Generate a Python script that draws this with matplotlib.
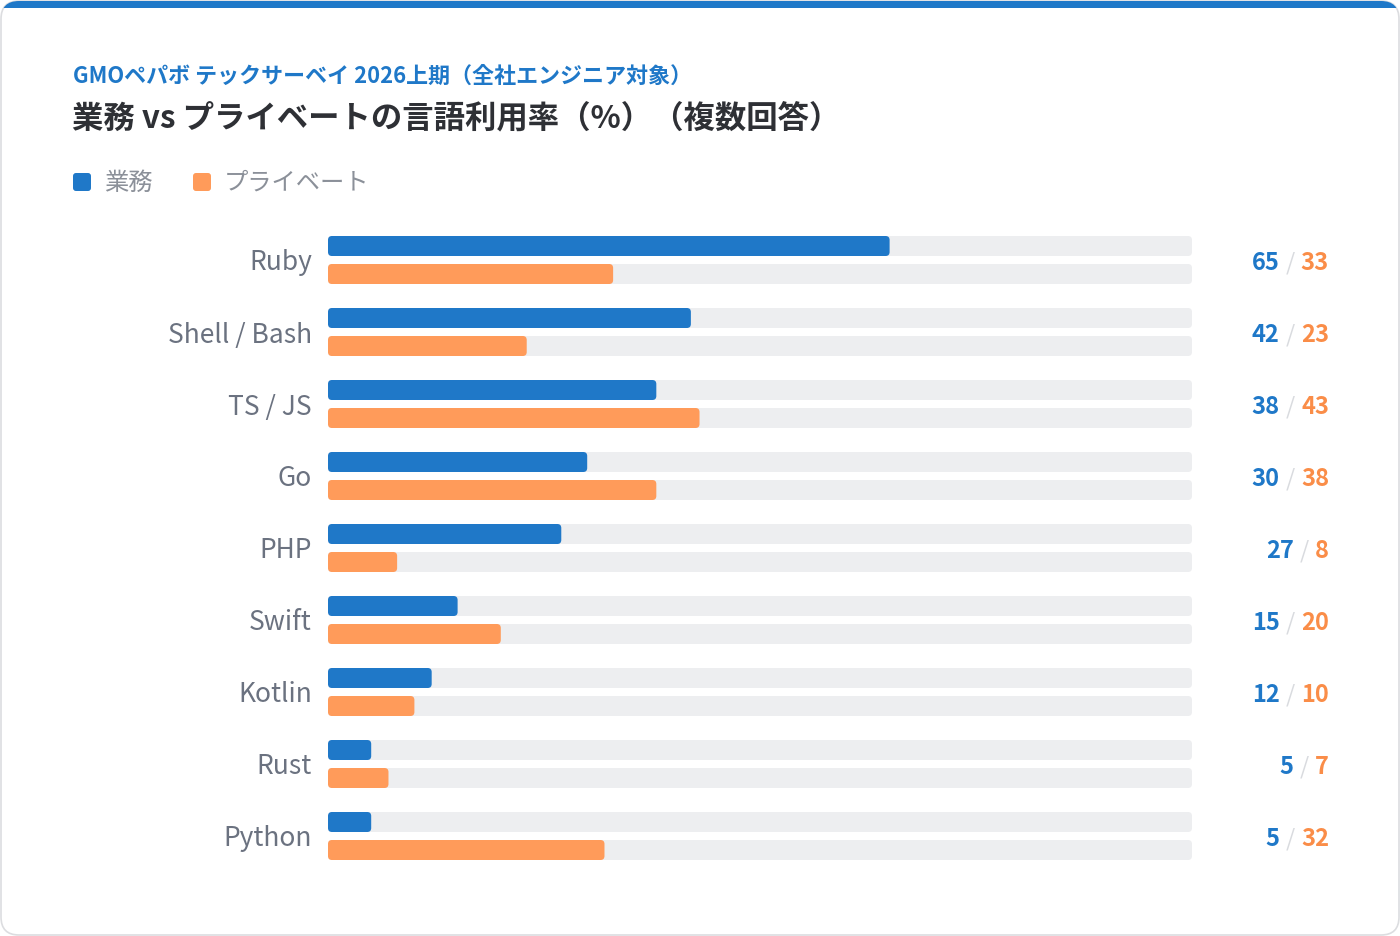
import matplotlib
matplotlib.use("Agg")
import matplotlib.pyplot as plt
from matplotlib.patches import FancyBboxPatch, Rectangle

plt.rcParams['font.family'] = ['Noto Sans CJK JP', 'DejaVu Sans']

languages = ["Ruby", "Shell / Bash", "TS / JS", "Go", "PHP", "Swift", "Kotlin", "Rust", "Python"]
work = [65, 42, 38, 30, 27, 15, 12, 5, 5]
private = [33, 23, 43, 38, 8, 20, 10, 7, 32]
series_names = ["業務", "プライベート"]
subtitle = "GMOペパボ テックサーベイ 2026上期（全社エンジニア対象）"
title = "業務 vs プライベートの言語利用率（%）（複数回答）"

BLUE = "#1f78c8"
ORANGE = "#ff9b5a"
ORANGE_TXT = "#fa8d48"
TRACK = "#edeef0"
LABEL = "#6b7280"

W, H = 1400, 936
fig = plt.figure(figsize=(W / 100, H / 100), dpi=100)

# background / card, pixel coordinates
bg = fig.add_axes([0, 0, 1, 1])
bg.set_xlim(0, W)
bg.set_ylim(H, 0)
bg.axis("off")
card = FancyBboxPatch((1, 1), W - 2, H - 2, boxstyle="round,pad=0,rounding_size=18",
                      fc="white", ec="#dcdde0", lw=1.2, zorder=1)
bg.add_patch(card)
band = Rectangle((0, 0), W, 8, fc=BLUE, ec="none", zorder=2)
bg.add_patch(band)
band.set_clip_path(card)

bg.text(73, 76, subtitle, color=BLUE, fontsize=15.8, fontweight="bold", va="center", ha="left")
bg.text(72, 118, title, color="#2e3035", fontsize=22.6, fontweight="bold", va="center", ha="left")

# legend
lx = [73, 193]
for x, name, c in zip(lx, series_names, [BLUE, ORANGE]):
    bg.add_patch(FancyBboxPatch((x, 173), 18, 18, boxstyle="round,pad=0,rounding_size=3",
                                fc=c, ec="none", zorder=3))
    bg.text(x + 31, 183, name, color="#8b9099", fontsize=17.5, va="center", ha="left")

# bars
ax_l, ax_r, ax_t, ax_b = 328, 1192, 224, 872
ax = fig.add_axes([ax_l / W, 1 - ax_b / H, (ax_r - ax_l) / W, (ax_b - ax_t) / H])
ax.set_xlim(0, 100)
ax.set_ylim(len(languages) - 0.5, -0.5)
ax.axis("off")

px_x = (ax_r - ax_l) / 100.0
px_y = (ax_b - ax_t) / 1.0 / len(languages)
bar_h = 20 / px_y
off = 14 / px_y
r = 4 / px_x
asp = px_x / px_y

def rbar(x0, y0, w, h, color, z):
    p = FancyBboxPatch((x0, y0), w, h, boxstyle="round,pad=0,rounding_size=%f" % r,
                       mutation_aspect=asp, fc=color, ec="none", zorder=z)
    ax.add_patch(p)

for i, (lang, a, b) in enumerate(zip(languages, work, private)):
    for yc, v, c in [(i - off, a, BLUE), (i + off, b, ORANGE)]:
        rbar(0, yc - bar_h / 2, 100, bar_h, TRACK, 1)
        rbar(0, yc - bar_h / 2, v, bar_h, c, 2)
    yp = ax_t + (i + 0.5) * px_y
    bg.text(312, yp, lang, color=LABEL, fontsize=19, va="center_baseline", ha="right")

fig.canvas.draw()
renderer = fig.canvas.get_renderer()
for i, (a, b) in enumerate(zip(work, private)):
    yp = ax_t + (i + 0.5) * px_y
    t1 = bg.text(1329, yp, str(b), color=ORANGE_TXT, fontsize=17, fontweight="bold",
                 va="center_baseline", ha="right")
    w1 = t1.get_window_extent(renderer).width
    t2 = bg.text(1329 - w1 - 6, yp, "/", color="#d9dbdf", fontsize=17,
                 va="center_baseline", ha="right")
    w2 = t2.get_window_extent(renderer).width
    bg.text(1329 - w1 - w2 - 12, yp, str(a), color=BLUE, fontsize=17, fontweight="bold",
            va="center_baseline", ha="right")

fig.savefig("out.png", dpi=100)
